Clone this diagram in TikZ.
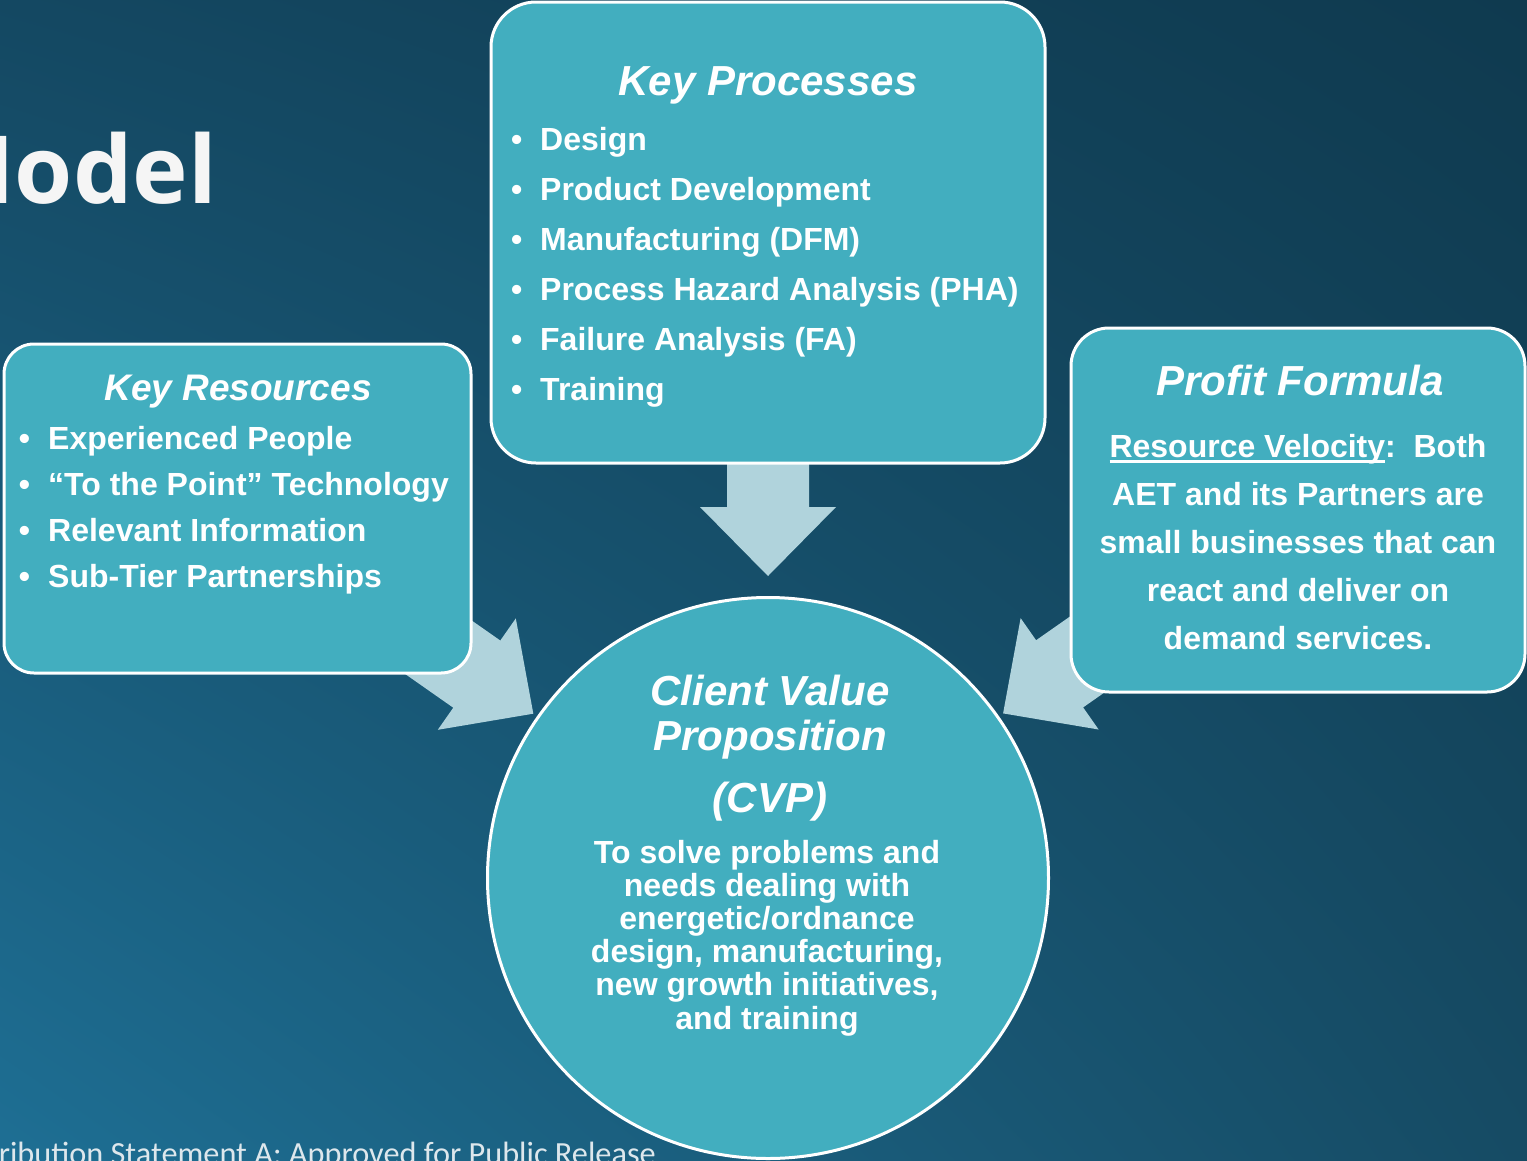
\documentclass[tikz,border=0pt]{standalone}
\usepackage{fontspec}
\setmainfont{Liberation Sans}
\newfontfamily\titlefont{Open Sans}
\newfontfamily\footfont{Carlito}
\usepackage{tikz}
\usetikzlibrary{backgrounds,calc,shadings}

\definecolor{boxteal}{HTML}{42AEBF}
\definecolor{arrowblue}{HTML}{B0D3DC}
\definecolor{bgtl}{HTML}{144862}
\definecolor{bgtr}{HTML}{0F3A4F}
\definecolor{bgbl}{HTML}{1E6F94}
\definecolor{bgbr}{HTML}{164B64}
\definecolor{foottext}{HTML}{DDE7EC}

% underline sitting just under the baseline
\newcommand{\ulword}[1]{\setbox0\hbox{#1}\rlap{\rule[-5.5pt]{\wd0}{3pt}}\box0}

% broad block arrow from a tail point to a tip point: {tip}{tail}
\newcommand{\blockarrow}[2]{%
  \coordinate (hb) at ($(#1)!69pt!(#2)$);
  \fill[arrowblue] ($(#2)!41pt!90:(#1)$) -- ($(hb)!41pt!90:(#1)$) -- ($(hb)!68pt!90:(#1)$) -- (#1)
    -- ($(hb)!68pt!-90:(#1)$) -- ($(hb)!41pt!-90:(#1)$) -- ($(#2)!41pt!-90:(#1)$) -- cycle;}

\tikzset{
  keybox/.style={draw=white, line width=3pt, fill=boxteal, rounded corners=#1},
  headtext/.style={text=white, inner sep=0pt, anchor=base, font=\fontsize{42}{45}\selectfont\bfseries\itshape},
  itemtext/.style={text=white, inner sep=0pt, anchor=base west, font=\fontsize{32}{33}\selectfont\bfseries},
  linetext/.style={text=white, inner sep=0pt, anchor=base, font=\fontsize{32}{33}\selectfont\bfseries}
}

\begin{document}
\begin{tikzpicture}[x=1pt,y=-1pt]
\useasboundingbox (0,0) rectangle (1527,1160);
\clip (0,0) rectangle (1527,1160);

% the four blocks
\node[keybox=45pt, minimum width=554pt, minimum height=461pt] (kp) at (768,232.5) {};
\node[keybox=30pt, minimum width=467pt, minimum height=329pt] (kr) at (237.5,508.5) {};
\node[keybox=38pt, minimum width=454pt, minimum height=364pt] (pf) at (1298,510) {};
\node[draw=white, line width=3pt, fill=boxteal, circle, inner sep=0pt, minimum size=561pt] (cvp) at (768,878) {};

% backdrop and block arrows, behind everything
\begin{scope}[on background layer]
\shade[upper left=bgtl, upper right=bgtr, lower left=bgbl, lower right=bgbr] (0,0) rectangle (1527,1160);
\coordinate (kptip) at ($(cvp.center)!302pt!(cvp.90)$);
\coordinate (kptail) at ($(cvp.center)!560pt!(cvp.90)$);
\coordinate (krtip) at ($(cvp.center)!286.5pt!(cvp.145)$);
\coordinate (krtail) at ($(cvp.center)!560pt!(cvp.145)$);
\coordinate (pftip) at ($(cvp.center)!287pt!(cvp.35)$);
\coordinate (pftail) at ($(cvp.center)!560pt!(cvp.35)$);
\blockarrow{kptip}{kptail}
\blockarrow{krtip}{krtail}
\blockarrow{pftip}{pftail}
\end{scope}

\node[anchor=base east, inner sep=0pt, text=white!96!black, font=\titlefont\fontsize{94}{94}\selectfont\bfseries] (title) at (217,203) {Model};

% key processes
\node[headtext] (kphead) at (768,95) {Key Processes};
\foreach \txt [count=\i from 0] in {Design, Product Development, Manufacturing (DFM), Process Hazard Analysis (PHA), Failure Analysis (FA), Training}
  \node[itemtext] (kpitem\i) at (540,150+50*\i) {\llap{\textbullet\hspace{18pt}}\txt};

% key resources
\node[headtext, font=\fontsize{37}{40}\selectfont\bfseries\itshape] (krhead) at (238,400) {Key Resources};
\foreach \txt [count=\i from 0] in {Experienced People, “To the Point” Technology, Relevant Information, Sub-Tier Partnerships}
  \node[itemtext] (kritem\i) at (48,449+46*\i) {\llap{\textbullet\hspace{18pt}}\txt};

% profit formula
\node[headtext] (pfhead) at (1300,395) {Profit Formula};
\foreach \txt [count=\i from 0] in {{\ulword{Resource Velocity}:\ \ Both}, AET and its Partners are, small businesses that can, react and deliver on, demand services.}
  \node[linetext] (pfline\i) at (1298,457+48*\i) {\txt};

% client value proposition
\foreach \y/\txt [count=\i] in {705/Client Value, 750/Proposition, 812/(CVP)}
  \node[headtext] (cvphead\i) at (770,\y) {\txt};
\foreach \txt [count=\i from 0] in {To solve problems and, needs dealing with, energetic/ordnance, {design, manufacturing,}, {new growth initiatives,}, and training}
  \node[linetext] (cvpline\i) at (767,863+33.2*\i) {\txt};

\node[anchor=base east, inner sep=0pt, text=foottext, font=\footfont\fontsize{32.3}{33}\selectfont] (footer) at (656,1164) {Distribution Statement A: Approved for Public Release};
\end{tikzpicture}
\end{document}
